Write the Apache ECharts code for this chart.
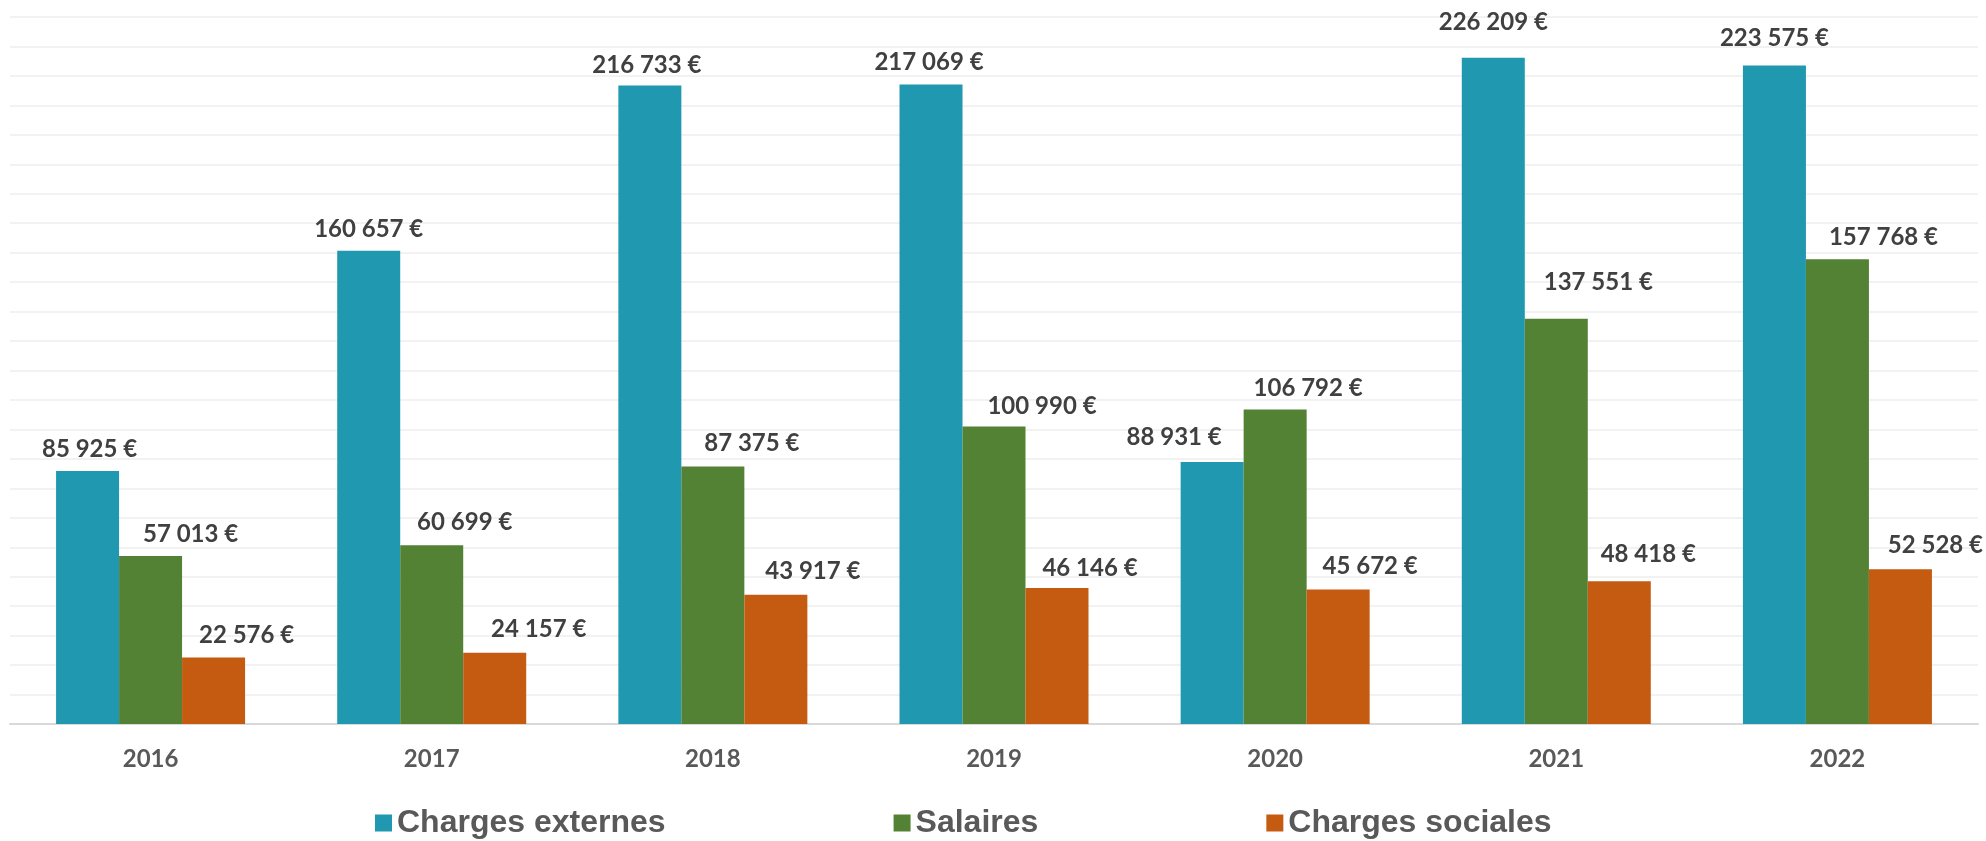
<!DOCTYPE html>
<html>
<head>
<meta charset="utf-8">
<title>Charges</title>
<script src="https://cdn.jsdelivr.net/npm/echarts@6/dist/echarts.min.js"></script>
<style>
  html, body { margin: 0; padding: 0; background: #fff; }
  #chart { width: 1986px; height: 841px; }
</style>
</head>
<body>
<div id="chart"></div>
<script>
const years = ["2016", "2017", "2018", "2019", "2020", "2021", "2022"];
const chargesExternes = [85925, 160657, 216733, 217069, 88931, 226209, 223575];
const salaires = [57013, 60699, 87375, 100990, 106792, 137551, 157768];
const chargesSociales = [22576, 24157, 43917, 46146, 45672, 48418, 52528];

// placement des étiquettes (décalage horizontal / hauteur au-dessus de la barre)
const labelShift = {
  externes: { dx: [2, 0, -3, -2, -38, 0, 0], rise: [22, 21, 20, 22, 25, 35, 27] },
  salaires: { dx: [40, 33, 39, 48, 33, 42, 46], rise: [22, 23, 23, 20, 21, 37, 22] },
  sociales: { dx: [33, 44, 37, 33, 32, 29, 35], rise: [22, 24, 23, 20, 23, 27, 24] }
};

const euro = v => String(v).replace(/\B(?=(\d{3})+(?!\d))/g, " ") + " €";

function withLabels(values, shift) {
  return values.map((v, i) => ({
    value: v,
    label: { offset: [shift.dx[i], -(shift.rise[i] - 13)] }
  }));
}

const labelStyle = {
  show: true,
  position: "top",
  distance: 0,
  fontFamily: "Lato",
  fontWeight: "bold",
  fontSize: 24,
  lineHeight: 26,
  color: "#404040",
  formatter: p => euro(p.value)
};

const chart = echarts.init(document.getElementById("chart"));
chart.setOption({
  animation: false,
  grid: { left: 10, right: 8, top: 17, bottom: 117, containLabel: false },
  legend: {
    left: 370,
    top: 802,
    icon: "rect",
    itemWidth: 17,
    itemHeight: 17,
    itemGap: 228,
    textStyle: {
      fontFamily: "Liberation Sans",
      fontWeight: "bold",
      fontSize: 32,
      color: "#595959"
    },
    data: ["Charges externes", "Salaires", "Charges sociales"]
  },
  xAxis: {
    type: "category",
    data: years,
    axisTick: { show: false },
    axisLine: { lineStyle: { color: "#D9D9D9", width: 2 } },
    axisLabel: {
      margin: 23,
      fontFamily: "Lato",
      fontWeight: "bold",
      fontSize: 24,
      color: "#595959"
    }
  },
  yAxis: {
    type: "value",
    min: 0,
    max: 240000,
    interval: 10000,
    axisLabel: { show: false },
    axisLine: { show: false },
    axisTick: { show: false },
    splitLine: { lineStyle: { color: "#F2F2F2", width: 2 } }
  },
  series: [
    {
      name: "Charges externes",
      type: "bar",
      barWidth: 63,
      barGap: "0%",
      itemStyle: { color: "#2098B0" },
      label: labelStyle,
      data: withLabels(chargesExternes, labelShift.externes)
    },
    {
      name: "Salaires",
      type: "bar",
      barWidth: 63,
      barGap: "0%",
      itemStyle: { color: "#548235" },
      label: labelStyle,
      data: withLabels(salaires, labelShift.salaires)
    },
    {
      name: "Charges sociales",
      type: "bar",
      barWidth: 63,
      barGap: "0%",
      itemStyle: { color: "#C55A11" },
      label: labelStyle,
      data: withLabels(chargesSociales, labelShift.sociales)
    }
  ]
});
</script>
</body>
</html>
